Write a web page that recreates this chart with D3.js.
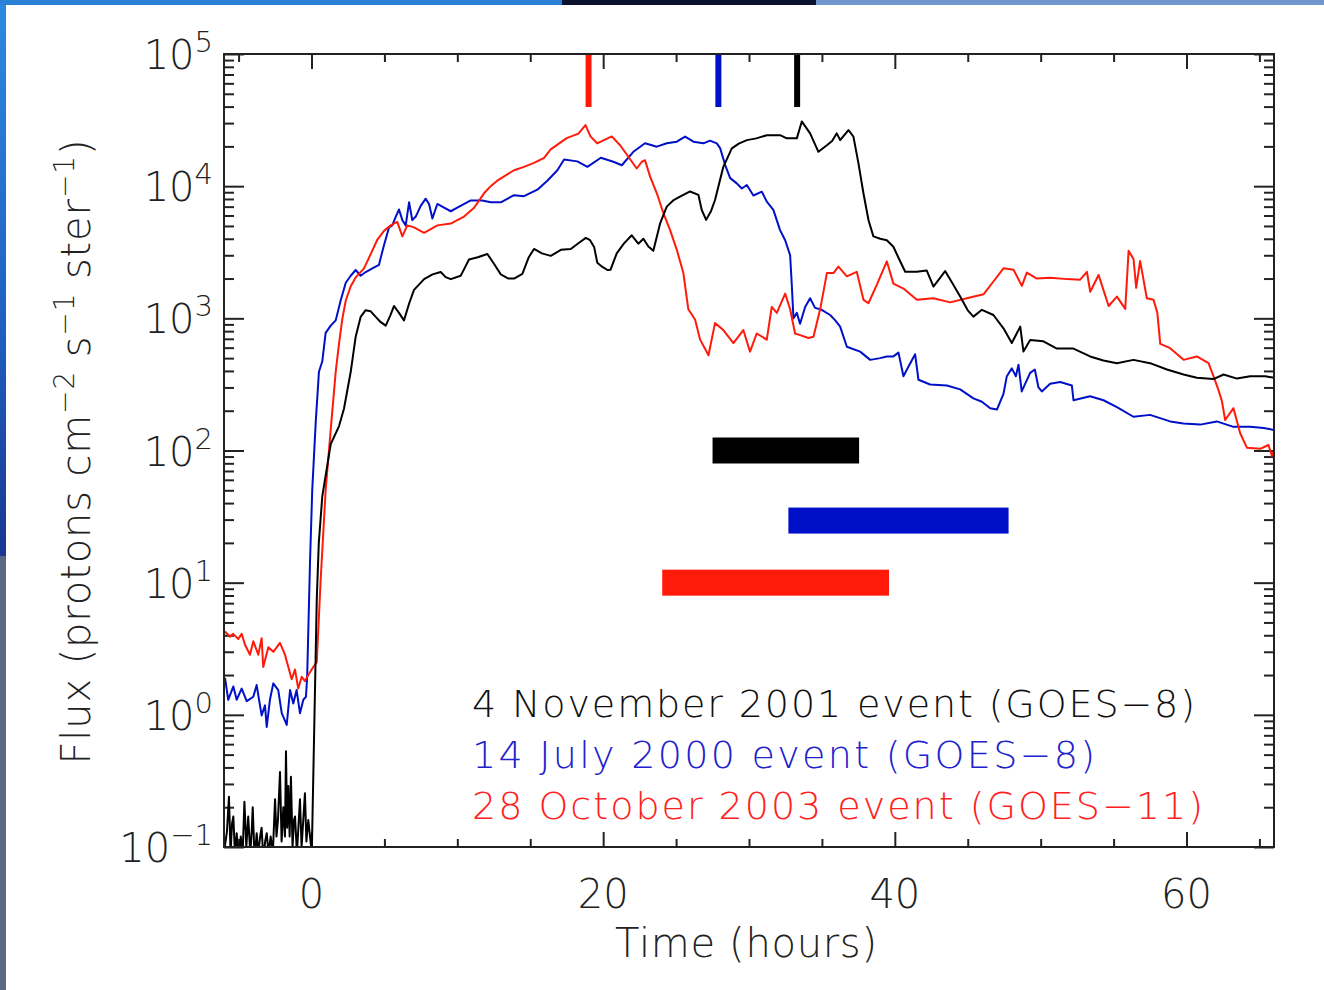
<!DOCTYPE html>
<html>
<head>
<meta charset="utf-8">
<script src="https://cdn.jsdelivr.net/npm/d3@7"></script>
<style>
  body { margin: 0; background: #fff; }
  svg { display: block; }
  text { font-family: 'DejaVu Sans', sans-serif; font-weight: 300; }
</style>
</head>
<body>
<div id="chart"></div>
<script>
// ---- data ----
// 4 November 2001 event (GOES-8)
var novTime = [-5.95, -5.8, -5.66, -5.55, -5.45, -5.36, -5.25, -5.13, -5.0, -4.85, -4.72, -4.6, -4.47, -4.34, -4.2, -4.1, -4.03, -3.9, -3.76, -3.65, -3.52, -3.42, -3.3, -3.18, -3.07, -2.95, -2.8, -2.65, -2.5, -2.4, -2.3, -2.16, -2.05, -1.93, -1.82, -1.75, -1.67, -1.59, -1.5, -1.41, -1.3, -1.2, -1.13, -1.0, -0.9, -0.79, -0.68, -0.58, -0.45, -0.35, -0.22, -0.1, 0.02,
  0.36, 0.5, 0.74, 1.32, 1.89, 2.23, 2.69, 3.03, 3.37, 3.7, 4.06, 4.5, 4.75, 5.09, 5.4, 5.66, 6.0, 6.34, 6.7, 7.03, 7.72, 8.3, 8.86, 9.2, 9.55, 10.23, 10.5, 10.8, 11.4, 12.06, 12.5, 12.98, 13.5, 13.89, 14.46, 14.9, 15.26, 15.8, 16.41, 17.1, 17.78, 18.3, 18.81, 19.1, 19.38, 19.6, 19.9, 20.29, 20.5, 20.93, 21.43, 21.96, 22.41, 22.76, 23.1, 23.44, 23.9, 24.36, 24.8, 25.27, 25.96, 26.53, 26.76, 27.06, 27.4, 27.67, 28.0, 28.24, 28.82, 29.3, 29.85, 30.5, 31.22, 32.13, 32.59, 33.28, 33.62, 34.19, 34.76, 35.34, 35.7, 36.02, 36.25, 36.82, 37.16, 37.5, 37.85, 38.2, 38.53, 39.0, 39.45, 39.9, 40.3, 40.71, 41.5, 42.19, 42.65, 43.45, 44.0, 44.48, 45.0, 45.39, 45.97, 46.76, 47.45, 48.02, 48.6, 48.82, 49.28, 50.19, 51.11, 52.25, 53.39, 54.3, 55.23, 56.36, 57.5, 58.66, 59.8, 60.71, 61.85, 62.54, 63.46, 64.37, 65.4, 66.0];
var novFlux = [0.1, 0.13, 0.24, 0.09, 0.15, 0.17, 0.09, 0.127, 0.08, 0.12, 0.09, 0.22, 0.1, 0.17, 0.09, 0.13, 0.2, 0.08, 0.127, 0.09, 0.12, 0.14, 0.08, 0.11, 0.127, 0.09, 0.12, 0.09, 0.23, 0.12, 0.16, 0.37, 0.11, 0.2, 0.12, 0.53, 0.14, 0.29, 0.12, 0.34, 0.1, 0.16, 0.17, 0.09, 0.14, 0.23, 0.1, 0.15, 0.255, 0.11, 0.16, 0.12, 0.09,
  7.4, 20, 45, 112, 153, 208, 394, 727, 1025, 1150, 1130, 1000, 935, 880, 1050, 1240, 1100, 965, 1300, 1640, 1980, 2150, 2240, 2050, 1980, 2100, 2400, 2790, 2900, 3070, 2600, 2150, 2000, 2000, 2170, 2900, 3350, 3100, 2970, 3300, 3350, 3700, 4060, 3900, 3470, 2630, 2470, 2320, 2330, 3100, 3690, 4250, 3670, 4000, 3500, 3240, 5200, 7000, 7800, 8330, 9120, 8600, 6600, 5560, 6500, 7860, 11000, 14000, 19300, 21000, 22300, 23000, 24300, 24300, 23000, 23000, 30900, 25100, 18200, 20400, 22000, 25100, 22300, 26600, 23700, 15000, 8800, 5500, 4170, 4000, 3900, 3480, 2800, 2250, 2250, 2300, 1740, 2280, 1800, 1460, 1150, 1030, 1160, 1060, 840, 650, 865, 560, 685, 670, 590, 590, 515, 480, 458, 485, 458, 410, 376, 355, 347, 376, 350, 365, 365, 355];

// 14 July 2000 event (GOES-8)
var julTime = [-5.93, -5.71, -5.36, -5.13, -4.79, -4.44, -3.99, -3.76, -3.42, -3.19, -3.07, -2.85, -2.62, -2.28, -2.04, -1.7, -1.47, -1.25, -1.02, -0.79, -0.56, -0.38, -0.3,
  -0.1, 0.05, 0.29, 0.51, 0.74, 0.97, 1.32, 1.66, 2.0, 2.35, 2.69, 3.03, 3.37, 3.72, 4.17, 4.63, 4.75, 4.97, 5.32, 5.54, 5.78, 6.0, 6.23, 6.46, 6.69, 6.91, 7.15, 7.49, 7.83, 8.06, 8.29, 8.63, 9.09, 9.55, 10.0, 10.92, 11.71, 12.29, 12.98, 13.89, 14.57, 15.49, 16.17, 16.86, 17.32, 18.23, 18.92, 19.84, 20.7, 21.28, 22.07, 22.87, 23.68, 24.36, 25.05, 25.62, 26.19, 26.87, 27.33, 27.79, 28.02, 28.36, 28.71, 29.16, 29.51, 29.85, 30.3, 30.88, 31.22, 31.67, 32.13, 32.48, 32.82, 32.94, 33.05, 33.28, 33.5, 33.85, 34.19, 34.53, 34.99, 35.56, 35.9, 36.25, 36.71, 37.62, 38.31, 38.99, 39.45, 39.9, 40.25, 40.59, 40.93, 41.39, 41.62, 42.42, 43.57, 44.48, 45.39, 45.97, 46.54, 47.0, 47.45, 47.68, 48.02, 48.3, 48.48, 48.7, 49.28, 49.6, 49.85, 50.08, 50.65, 51.34, 52.14, 52.25, 53.39, 54.31, 55.23, 56.36, 57.5, 58.88, 59.79, 60.94, 62.08, 63.22, 64.37, 65.3, 66.0];
var julFlux = [1.9, 1.3, 1.64, 1.3, 1.58, 1.27, 1.37, 1.68, 0.99, 1.18, 0.81, 1.3, 1.73, 1.54, 1.03, 0.84, 1.54, 1.22, 1.54, 1.03, 1.3, 1.37, 1.9,
  14.5, 50, 164, 394, 473, 776, 880, 965, 1365, 1860, 2100, 2320, 2100, 2240, 2390, 2540, 2880, 3570, 4880, 5050, 5890, 6660, 5530, 5050, 7550, 5530, 5890, 7090, 8040, 7330, 5700, 7330, 6870, 6460, 6870, 7800, 7800, 7550, 7550, 8550, 8400, 9400, 11000, 13200, 15900, 15400, 14000, 16400, 15300, 14400, 18200, 21100, 19900, 21100, 21700, 23700, 21700, 21100, 22100, 21100, 19400, 14500, 11500, 10500, 9600, 10200, 8500, 9080, 7640, 6620, 4650, 3900, 3000, 1740, 1000, 1100, 910, 1220, 1420, 1200, 1160, 1060, 970, 865, 610, 560, 485, 500, 515, 515, 550, 365, 430, 535, 343, 316, 310, 290, 248, 234, 209, 204, 268, 365, 418, 365, 445, 280, 387, 410, 300, 280, 320, 330, 310, 240, 257, 240, 213, 180, 186, 166, 160, 157, 166, 151, 151, 148, 143];

// 28 October 2003 event (GOES-11)
var octTime = [-5.93, -5.59, -5.37, -5.02, -4.79, -4.56, -4.22, -3.99, -3.65, -3.42, -3.31, -2.96, -2.62, -2.16, -1.82, -1.59, -1.36, -1.13, -0.91, -0.67, -0.45, -0.22, 0.12, 0.36,
  0.63, 0.97, 1.32, 1.66, 1.89, 2.12, 2.35, 2.69, 3.03, 3.6, 4.06, 4.51, 4.97, 5.43, 5.88, 6.23, 6.57, 7.03, 7.72, 8.63, 9.55, 10.0, 10.46, 11.15, 11.83, 12.29, 12.74, 13.43, 13.89, 14.57, 15.26, 15.95, 16.4, 17.5, 18.3, 18.79, 19.13, 19.59, 20.05, 20.59, 21.16, 21.73, 22.3, 22.65, 22.87, 23.22, 23.68, 24.13, 24.59, 25.05, 25.5, 25.84, 26.3, 26.65, 27.22, 27.67, 28.24, 28.93, 29.61, 30.07, 30.53, 31.22, 31.56, 31.91, 32.48, 32.82, 33.16, 33.5, 34.08, 34.42, 34.88, 35.34, 35.79, 36.13, 36.71, 37.39, 37.85, 38.19, 38.77, 39.45, 39.9, 40.59, 41.51, 42.65, 43.79, 44.94, 46.08, 46.76, 47.45, 48.14, 48.71, 49.05, 49.74, 50.65, 51.8, 52.71, 53.17, 53.4, 53.97, 54.66, 55.23, 55.8, 56.03, 56.37, 56.55, 56.82, 57.28, 57.74, 58.0, 58.2, 58.88, 59.8, 60.71, 61.51, 61.85, 62.2, 62.43, 62.65, 63.22, 63.68, 64.14, 65.05, 65.62, 65.86, 66.0];
var octFlux = [4.27, 3.9, 4.1, 3.75, 4.1, 3.39, 2.85, 3.6, 2.85, 3.8, 2.3, 3.25, 3.0, 3.5, 2.85, 2.3, 1.86, 2.2, 1.58, 1.94, 1.8, 2.0, 2.3, 2.5,
  10.6, 50, 145, 394, 650, 1000, 1365, 1750, 2040, 2390, 3060, 3930, 4590, 5050, 5370, 4170, 5050, 4880, 4440, 5050, 5210, 5530, 5890, 6870, 8830, 10000, 11000, 12300, 13200, 14000, 15000, 16400, 19000, 23100, 25000, 29000, 23800, 21100, 22300, 23800, 20400, 16700, 13600, 15300, 15700, 11800, 8830, 6240, 4650, 3300, 2200, 1170, 980, 690, 525, 920, 815, 650, 815, 560, 768, 690, 1220, 1100, 1540, 1170, 768, 746, 710, 725, 1170, 2200, 2200, 2460, 2080, 2250, 1380, 1300, 1800, 2700, 1830, 1680, 1380, 1420, 1320, 1420, 1520, 1900, 2390, 2330, 1760, 2220, 2000, 2030, 1980, 1960, 2250, 1590, 2130, 1240, 1460, 1180, 3250, 2800, 1700, 2720, 1420, 1380, 1100, 640, 595, 485, 515, 458, 365, 285, 236, 170, 209, 135, 105, 103, 110, 91, 100];

// event times marked on the top axis (hours)
var markerTimes = [19.0, 27.9, 33.3];
// horizontal bars: start, end (hours) and flux level
var barStart = [27.5, 32.7, 24.05];
var barEnd = [37.55, 47.8, 39.6];
var barLevel = [100, 29.5, 10];

var legendLabels = ['4 November 2001 event (GOES\u22128)', '14 July 2000 event (GOES\u22128)', '28 October 2003 event (GOES\u221211)'];
var seriesColors = ['#000000', '#0010c8', '#ff1a0a'];

var xMajor = [0, 20, 40, 60];
var xMinor = d3.range(-5, 66, 5).filter(d => xMajor.indexOf(d) < 0);
var yExponents = [-1, 0, 1, 2, 3, 4, 5];

// ---- layout ----
var svgWidth = 1324;
var svgHeight = 990;
var plot = { left: 224, right: 1274, top: 54, bottom: 847 };

var svg = d3.select('#chart')
    .append('svg')
    .attr('width', svgWidth)
    .attr('height', svgHeight);

// slide edges visible in the original screenshot
var defs = svg.append('defs');
var grad = defs.append('linearGradient')
    .attr('id', 'edgeGrad')
    .attr('x1', 0).attr('y1', 0).attr('x2', 0).attr('y2', 1);
grad.append('stop').attr('offset', '0%').attr('stop-color', '#2c8ae0');
grad.append('stop').attr('offset', '60%').attr('stop-color', '#1f5fc0');
grad.append('stop').attr('offset', '100%').attr('stop-color', '#1a3690');
svg.append('rect').attr('x', 0).attr('y', 0).attr('width', 6).attr('height', 556).attr('fill', 'url(#edgeGrad)');
svg.append('rect').attr('x', 0).attr('y', 556).attr('width', 6).attr('height', 434).attr('fill', '#5d6784');
svg.append('rect').attr('x', 0).attr('y', 0).attr('width', 562).attr('height', 5).attr('fill', '#2a7fd6');
svg.append('rect').attr('x', 562).attr('y', 0).attr('width', 254).attr('height', 5).attr('fill', '#0b1230');
svg.append('rect').attr('x', 816).attr('y', 0).attr('width', 508).attr('height', 5).attr('fill', '#6f96cf');

defs.append('clipPath')
    .attr('id', 'plotClip')
    .append('rect')
    .attr('x', plot.left)
    .attr('y', plot.top)
    .attr('width', plot.right - plot.left)
    .attr('height', plot.bottom - plot.top);

// scales
var xScale = d3.scaleLinear().domain([-6, 66]).range([plot.left, plot.right]);
var yScale = d3.scaleLog().domain([0.1, 1e5]).range([plot.bottom, plot.top]);

var yMajor = yExponents.map(e => Math.pow(10, e));
var yMinor = [];
yExponents.slice(0, -1).forEach(e => {
    for (var k = 2; k <= 9; k++) yMinor.push(k * Math.pow(10, e));
});

// ---- axes (ticks point inward, IDL style) ----
function addAxis(axis, tx, ty) {
    var g = svg.append('g')
        .attr('transform', `translate(${tx}, ${ty})`)
        .call(axis);
    g.select('.domain').remove();
    g.selectAll('line').attr('stroke', '#222').attr('stroke-width', 2);
    return g;
}

addAxis(d3.axisBottom(xScale).tickValues(xMajor).tickSize(-15).tickFormat(''), 0, plot.bottom);
addAxis(d3.axisBottom(xScale).tickValues(xMinor).tickSize(-8).tickFormat(''), 0, plot.bottom);
addAxis(d3.axisTop(xScale).tickValues(xMajor).tickSize(-15).tickFormat(''), 0, plot.top);
addAxis(d3.axisTop(xScale).tickValues(xMinor).tickSize(-8).tickFormat(''), 0, plot.top);
addAxis(d3.axisLeft(yScale).tickValues(yMajor).tickSize(-20).tickFormat(''), plot.left, 0);
addAxis(d3.axisLeft(yScale).tickValues(yMinor).tickSize(-10).tickFormat(''), plot.left, 0);
addAxis(d3.axisRight(yScale).tickValues(yMajor).tickSize(-20).tickFormat(''), plot.right, 0);
addAxis(d3.axisRight(yScale).tickValues(yMinor).tickSize(-10).tickFormat(''), plot.right, 0);

// ---- data marks ----
var line = d3.line()
    .x(d => xScale(d[0]))
    .y(d => yScale(d[1]));

var series = [
    d3.zip(julTime, julFlux),
    d3.zip(octTime, octFlux),
    d3.zip(novTime, novFlux)
];
var seriesColorOrder = [seriesColors[1], seriesColors[2], seriesColors[0]];

var dataGroup = svg.append('g').attr('clip-path', 'url(#plotClip)');

dataGroup.selectAll('path.flux')
    .data(series)
    .enter()
    .append('path')
    .attr('class', 'flux')
    .attr('d', line)
    .attr('fill', 'none')
    .attr('stroke', (d, i) => seriesColorOrder[i])
    .attr('stroke-width', 2)
    .attr('stroke-linejoin', 'round');

// horizontal bars
svg.selectAll('rect.bar')
    .data(barStart)
    .enter()
    .append('rect')
    .attr('class', 'bar')
    .attr('x', (d, i) => xScale(d))
    .attr('width', (d, i) => xScale(barEnd[i]) - xScale(d))
    .attr('y', (d, i) => yScale(barLevel[i]) - 13)
    .attr('height', 26)
    .attr('fill', (d, i) => seriesColors[i]);

// markers hanging from the top axis (red, blue, black)
var markerColors = [seriesColors[2], seriesColors[1], seriesColors[0]];
svg.selectAll('rect.marker')
    .data(markerTimes)
    .enter()
    .append('rect')
    .attr('class', 'marker')
    .attr('x', d => xScale(d) - 3)
    .attr('y', plot.top)
    .attr('width', 6)
    .attr('height', 53)
    .attr('fill', (d, i) => markerColors[i]);

// frame
svg.append('rect')
    .attr('x', plot.left)
    .attr('y', plot.top)
    .attr('width', plot.right - plot.left)
    .attr('height', plot.bottom - plot.top)
    .attr('fill', 'none')
    .attr('stroke', '#222')
    .attr('stroke-width', 2);

// ---- tick labels ----
svg.selectAll('text.xlabel')
    .data(xMajor)
    .enter()
    .append('text')
    .attr('class', 'xlabel')
    .attr('x', d => xScale(d))
    .attr('y', 908)
    .attr('text-anchor', 'middle')
    .attr('font-size', 40)
    .attr('fill', '#222')
    .text(d => d);

var yLabels = svg.selectAll('text.ylabel')
    .data(yExponents)
    .enter()
    .append('text')
    .attr('class', 'ylabel')
    .attr('x', 213)
    .attr('y', d => yScale(Math.pow(10, d)) + 15)
    .attr('text-anchor', 'end')
    .attr('font-size', 40)
    .attr('fill', '#222');
yLabels.append('tspan').text('10');
yLabels.append('tspan')
    .attr('dy', -17)
    .attr('font-size', 29)
    .text(d => d < 0 ? '\u2212' + (-d) : d);

// ---- axis titles ----
svg.append('text')
    .attr('x', 746)
    .attr('y', 957)
    .attr('text-anchor', 'middle')
    .attr('font-size', 40)
    .attr('textLength', 262)
    .attr('lengthAdjust', 'spacing')
    .attr('fill', '#222')
    .text('Time (hours)');

var yTitle = svg.append('text')
    .attr('transform', 'translate(90, 452) rotate(-90)')
    .attr('text-anchor', 'middle')
    .attr('font-size', 40)
    .attr('textLength', 625)
    .attr('lengthAdjust', 'spacing')
    .attr('fill', '#222');
yTitle.append('tspan').text('Flux (protons cm');
yTitle.append('tspan').attr('dy', -16).attr('font-size', 28).text('\u22122');
yTitle.append('tspan').attr('dy', 16).text(' s');
yTitle.append('tspan').attr('dy', -16).attr('font-size', 28).text('\u22121');
yTitle.append('tspan').attr('dy', 16).text(' ster');
yTitle.append('tspan').attr('dy', -16).attr('font-size', 28).text('\u22121');
yTitle.append('tspan').attr('dy', 16).text(')');

// ---- legend ----
var legendWidths = [723, 623, 731];
var legendColors = ['#111111', '#2222cc', '#ff2020'];
svg.selectAll('text.legend')
    .data(legendLabels)
    .enter()
    .append('text')
    .attr('class', 'legend')
    .attr('x', 472)
    .attr('y', (d, i) => 717 + i * 51)
    .attr('font-size', 38)
    .attr('textLength', (d, i) => legendWidths[i])
    .attr('lengthAdjust', 'spacing')
    .attr('fill', (d, i) => legendColors[i])
    .text(d => d);
</script>
</body>
</html>
